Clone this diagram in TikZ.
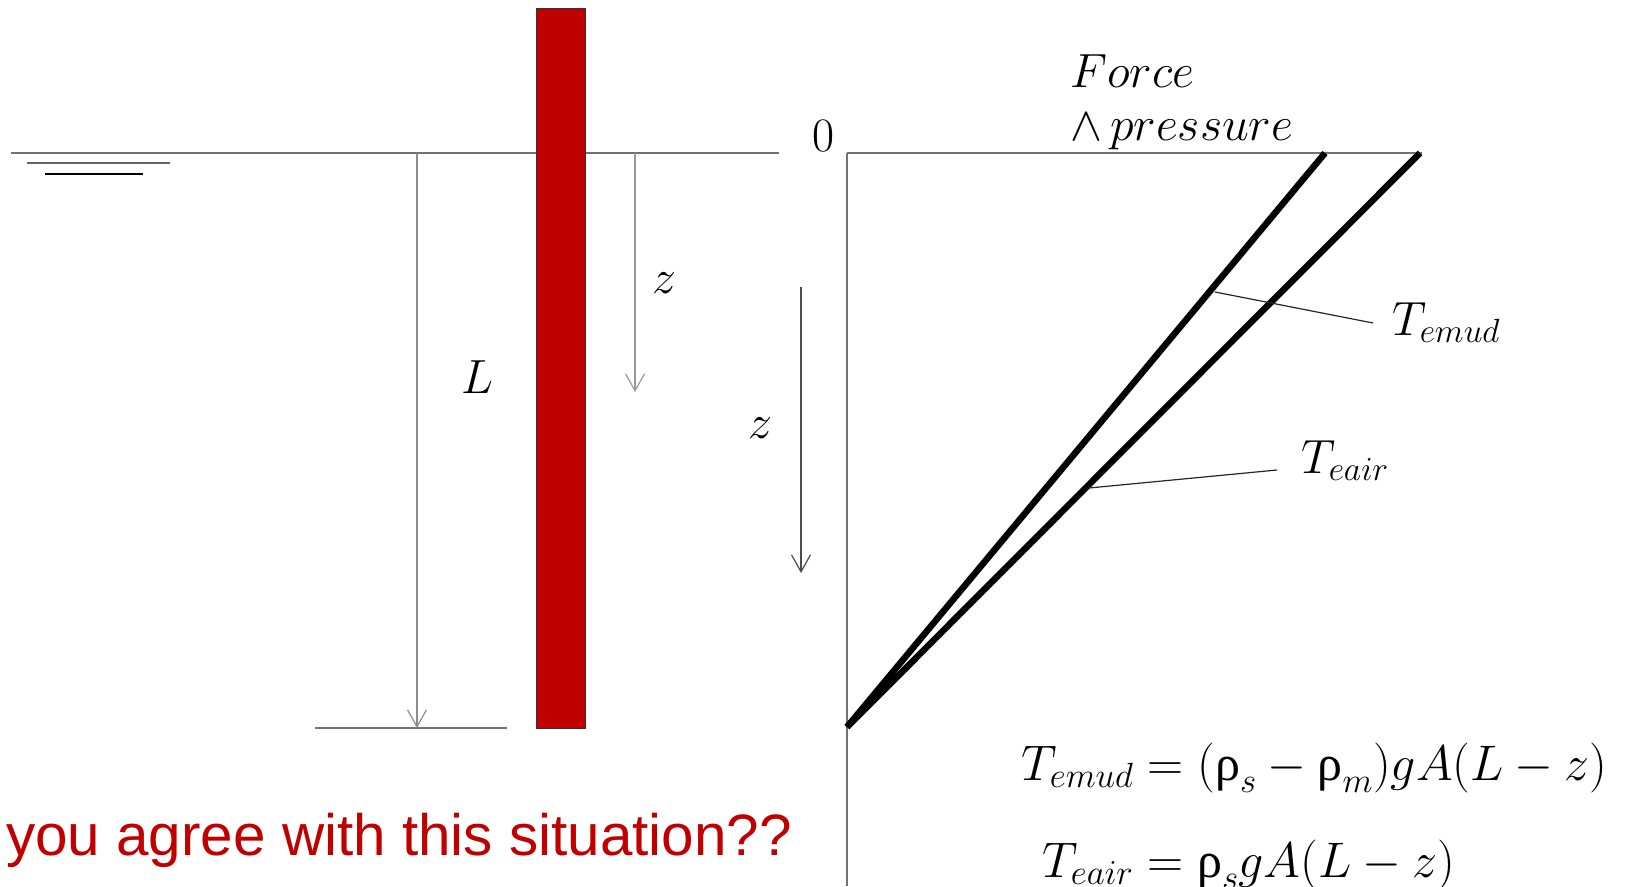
\RequirePackage{fix-cm}
\documentclass[tikz,border=0pt]{standalone}
\usepackage{fontspec}
\usepackage{amsmath}
\usetikzlibrary{arrows.meta}
\newfontfamily\arialfont{Liberation Sans}
\newfontfamily\greekfont{Liberation Serif}
\newcommand{\rhoup}{\text{\greekfont ρ}}
\definecolor{pilered}{HTML}{C00000}
\tikzset{
  lbl/.style={inner sep=0pt, anchor=base west, font=\fontsize{48}{54}\selectfont},
  eqn/.style={inner sep=0pt, anchor=base west, font=\fontsize{50}{56}\selectfont},
  guide/.style={draw=black!55, line width=1.3pt},
  dimarrow/.style={line width=1.2pt, -{Straight Barb[length=17pt,width=19pt,line width=1.2pt]}},
  curve/.style={line width=6.5pt},
}

\begin{document}
\begin{tikzpicture}[x=1pt,y=-1pt]
    \useasboundingbox (0,0) rectangle (1629,886);

    \coordinate (wl) at (11,153);
    \coordinate (wr) at (779,153);
    \coordinate (w1l) at (27,163);
    \coordinate (w1r) at (170,163);
    \coordinate (w2l) at (45,174);
    \coordinate (w2r) at (143,174);
    \coordinate (Ltop) at (417,153);
    \coordinate (Lbot) at (417,728);
    \coordinate (bl) at (315,728);
    \coordinate (br) at (507,728);
    \coordinate (z1top) at (635,153);
    \coordinate (z1bot) at (635,392);
    \coordinate (z2top) at (801,287);
    \coordinate (z2bot) at (801,573);

    \coordinate (O) at (847,153);
    \coordinate (axend) at (1422,153);
    \coordinate (axbot) at (847,886);
    \coordinate (tip) at (847,727);
    \coordinate (mudtop) at (1325,153);
    \coordinate (airtop) at (1420,153);
    \coordinate (mudlead) at (1215,292);
    \coordinate (mudleadend) at (1373,323);
    \coordinate (airlead) at (1089,488);
    \coordinate (airleadend) at (1277,470);

    \draw[guide] (wl) -- (wr);
    \draw[black!60, line width=1.3pt] (w1l) -- (w1r);
    \draw[black, line width=1.3pt] (w2l) -- (w2r);
    \draw[guide] (bl) -- (br);
    \draw[dimarrow, black!45] (Ltop) -- (Lbot);
    \draw[dimarrow, black!40] (z1top) -- (z1bot);
    \draw[dimarrow, black!70] (z2top) -- (z2bot);

    \node[draw=black!80, line width=1pt, fill=pilered, inner sep=0pt,
          minimum width=49pt, minimum height=720pt] (pile) at (560.5,368) {};

    \node[lbl] (Llbl) at (461,393) {$L$};
    \node[lbl] (z1lbl) at (652,293) {$z$};
    \node[lbl] (z2lbl) at (748,438) {$z$};
    \node[lbl, anchor=center] (zero) at (823,136) {$0$};
    \node[lbl] (force) at (1070,87) {$Force$};
    \node[lbl] (pres) at (1070,140) {$\wedge\,pressure$};
    \node[lbl] (mudlbl) at (1392,335) {$T_{emud}$};
    \node[lbl] (airlbl) at (1301,473) {$T_{eair}$};

    \node[eqn] (mudeq) at (1021,780) {$T_{emud}=(\rhoup_s-\rhoup_m)gA(L-z)$};
    \node[eqn] (aireq) at (1042,877) {$T_{eair}=\rhoup_s gA(L-z)$};

    \node[inner sep=0pt, anchor=base west, text=pilered,
          font=\arialfont\fontsize{58.4}{64}\selectfont] (ask) at (6,855) {you agree with this situation??};

    \draw[guide] (O) -- (axend);
    \draw[guide] (O) -- (axbot);
    \draw[curve] (tip) -- (mudtop);
    \draw[curve] (tip) -- (airtop);
    \draw[black!85, line width=1.2pt] (mudlead) -- (mudleadend);
    \draw[black!85, line width=1.2pt] (airlead) -- (airleadend);
\end{tikzpicture}
\end{document}
